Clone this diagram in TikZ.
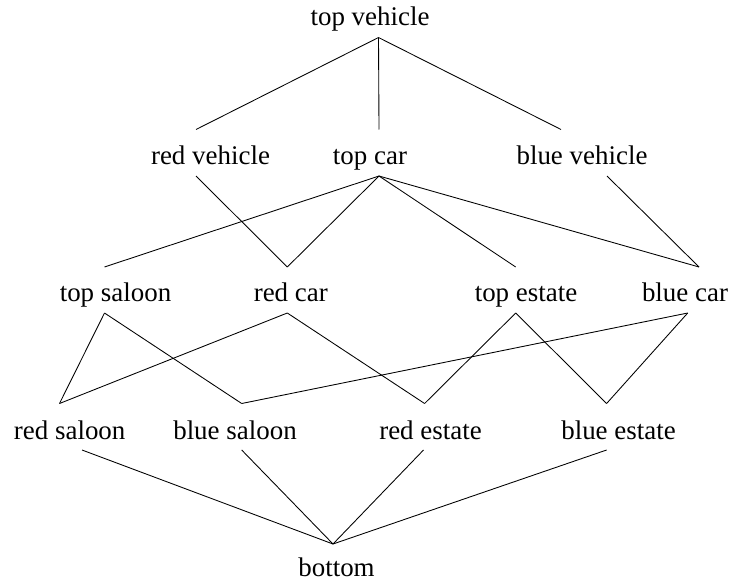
\documentclass[tikz,border=0pt]{standalone}
\usepackage{fontspec}
\setmainfont{Liberation Serif}
\begin{document}
\begin{tikzpicture}[x=0.75pt,y=-0.75pt,
  lbl/.style={anchor=base,inner sep=0pt,font=\fontsize{20.2pt}{24pt}\selectfont},
  edge/.style={line width=0.65pt}]
\useasboundingbox (0,0) rectangle (730,581);
% labels (base line positions)
\node[lbl] (tv) at (370,25.5) {top vehicle};
\node[lbl] (rv) at (210.5,164.5) {red vehicle};
\node[lbl] (tc) at (370,164.5) {top car};
\node[lbl] (bv) at (582,164.5) {blue vehicle};
\node[lbl] (ts) at (115.5,301) {top saloon};
\node[lbl] (rc) at (290.8,301) {red car};
\node[lbl] (te) at (526,301) {top estate};
\node[lbl] (bc) at (685,301) {blue car};
\node[lbl] (rs) at (69.7,439) {red saloon};
\node[lbl] (bs) at (235,439) {blue saloon};
\node[lbl] (re) at (430.5,439) {red estate};
\node[lbl] (be) at (618.5,439) {blue estate};
\node[lbl] (bot) at (336.5,576) {bottom};
% attachment points
\coordinate (tv-b) at (378.5,37.5);
\coordinate (rv-t) at (196,129.5);   \coordinate (rv-b) at (196,176);
\coordinate (tc-t) at (379,129.5);   \coordinate (tc-b) at (379,176);
\coordinate (bv-t) at (561,129.5);   \coordinate (bv-b) at (607,176);
\coordinate (ts-t) at (104.5,267);   \coordinate (ts-b) at (104.5,313);
\coordinate (rc-t) at (287.3,267);   \coordinate (rc-b) at (287.3,313);
\coordinate (te-t) at (515.7,267);   \coordinate (te-b) at (515.7,313);
\coordinate (bc-t) at (699,267);     \coordinate (bc-b) at (687.7,313);
\coordinate (rs-t) at (59.5,403.5);  \coordinate (rs-b) at (82,450);
\coordinate (bs-t) at (241.7,403.5); \coordinate (bs-b) at (241.7,450);
\coordinate (re-t) at (424.6,403.5); \coordinate (re-b) at (423.5,450);
\coordinate (be-t) at (606.6,403.5); \coordinate (be-b) at (606.6,450);
\coordinate (bot-t) at (333,544);
% edges
\draw[edge] (tv-b) -- (rv-t);
\draw[edge] (tv-b) -- (tc-t);
\draw[edge] (tv-b) -- (bv-t);
\draw[edge] (rv-b) -- (rc-t);
\draw[edge] (tc-b) -- (ts-t);
\draw[edge] (tc-b) -- (rc-t);
\draw[edge] (tc-b) -- (te-t);
\draw[edge] (tc-b) -- (bc-t);
\draw[edge] (bv-b) -- (bc-t);
\draw[edge] (ts-b) -- (rs-t);
\draw[edge] (ts-b) -- (bs-t);
\draw[edge] (rc-b) -- (rs-t);
\draw[edge] (rc-b) -- (re-t);
\draw[edge] (te-b) -- (re-t);
\draw[edge] (te-b) -- (be-t);
\draw[edge] (bc-b) -- (bs-t);
\draw[edge] (bc-b) -- (be-t);
\draw[edge] (rs-b) -- (bot-t);
\draw[edge] (bs-b) -- (bot-t);
\draw[edge] (re-b) -- (bot-t);
\draw[edge] (be-b) -- (bot-t);
\end{tikzpicture}
\end{document}
